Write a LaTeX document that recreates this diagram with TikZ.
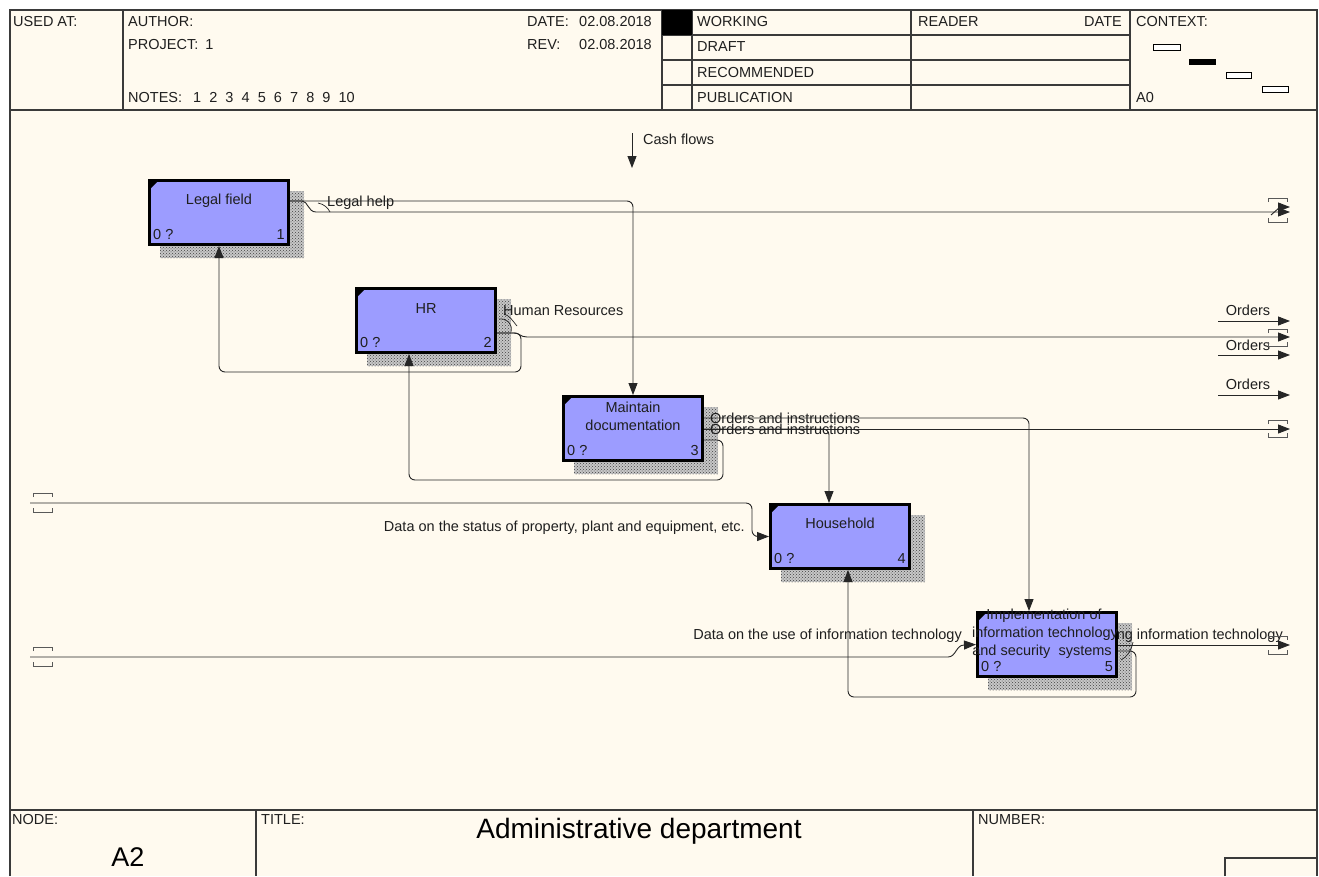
\documentclass[tikz,border=0pt]{standalone}
\usepackage{fontspec}
\setmainfont{Liberation Sans}
\usetikzlibrary{calc,patterns,arrows.meta}

\definecolor{paper}{HTML}{FFFAEF}
\definecolor{boxblue}{HTML}{9C9CFF}
\definecolor{frameline}{HTML}{3A3A3A}
\definecolor{wirecol}{HTML}{262626}

\pgfdeclarelayer{paperlayer}
\pgfdeclarelayer{wires}
\pgfsetlayers{paperlayer,wires,main}

\tikzset{
  lbl/.style={inner sep=0pt, font=\fontsize{14.5}{18}\selectfont, text=black!88,
              text height=10.4pt, text depth=0pt},
  hdr/.style={lbl, anchor=west},
  func/.style={draw=black, line width=2.8pt, fill=boxblue, minimum width=139.2pt,
               minimum height=64.2pt, inner sep=0pt},
  shadowbase/.style={fill=black!22},
  shadowfill/.style={pattern=crosshatch dots, pattern color=black!75},
  frame/.style={draw=frameline, line width=1.2pt},
  wire/.style={draw=wirecol, line width=0.9pt},
  arr/.style={wire, -{Triangle[length=12pt,width=9pt]}},
  rarr/.style={arr, rounded corners=6pt},
  squig/.style={draw=wirecol, line width=0.7pt},
  tunnelline/.style={draw=black!65, line width=1pt},
}

% tunnel brackets: #1 = left x, #2 = upper bracket y, #3 = lower bracket y
\newcommand\tunnelpair[3]{%
  \draw[tunnelline] (#1,#2) ++(0,4) -- ++(0,-4) -- ++(19,0) -- ++(0,4);
  \draw[tunnelline] (#1,#3) ++(0,-4) -- ++(0,4) -- ++(19,0) -- ++(0,-4);
}

\begin{document}
\begin{tikzpicture}[x=1pt,y=-1pt]
\useasboundingbox (0,0) rectangle (1319,876);

% ---------- sheet and frame ----------
\begin{pgfonlayer}{paperlayer}
  \fill[white] (0,0) rectangle (1319,876);
  \fill[paper] (10,10) rectangle (1317,876);
  \draw[frame] (10,876) -- (10,10) -- (1317,10) -- (1317,876);
  \draw[frame] (10,110) -- (1317,110);
  \draw[frame] (123,10) -- (123,110);
  \draw[frame] (662,10) -- (662,110);
  \draw[frame] (692,10) -- (692,110);
  \draw[frame] (911,10) -- (911,110);
  \draw[frame] (1130,10) -- (1130,110);
  \draw[frame] (662,35) -- (1130,35);
  \draw[frame] (662,60) -- (1130,60);
  \draw[frame] (662,85) -- (1130,85);
  \fill[black] (662,10) rectangle (692,35);
  % context map
  \draw[line width=0.9pt, fill=white] (1153,44) rectangle (1180,50);
  \fill[black] (1189,59) rectangle (1216,65);
  \draw[line width=0.9pt, fill=white] (1226,72) rectangle (1251,78);
  \draw[line width=0.9pt, fill=white] (1262,86) rectangle (1288,92);
  % footer
  \draw[frame] (10,810) -- (1317,810);
  \draw[frame] (256,810) -- (256,876);
  \draw[frame] (973,810) -- (973,876);
  \draw[frame] (1225,876) -- (1225,858) -- (1317,858);
\end{pgfonlayer}

% ---------- header texts ----------
\node[hdr] (usedat) at (13,21) {USED AT:};
\node[hdr] (author) at (128,21) {AUTHOR:};
\node[hdr] (project) at (128,44) {PROJECT:\hspace{7pt}1};
\node[hdr] (notes) at (128,97) {\spaceskip=8.1pt NOTES:\hspace{11pt}1 2 3 4 5 6 7 8 9 10};
\node[hdr] (date) at (527,21) {DATE:};
\node[hdr] (dateval) at (579,21) {02.08.2018};
\node[hdr] (rev) at (527,44) {REV:};
\node[hdr] (revval) at (579,44) {02.08.2018};
\node[hdr] (working) at (697,21) {WORKING};
\node[hdr] (draft) at (697,46) {DRAFT};
\node[hdr] (recommended) at (697,72) {RECOMMENDED};
\node[hdr] (publication) at (697,97) {PUBLICATION};
\node[hdr] (reader) at (918,21) {READER};
\node[lbl, anchor=east] (readerdate) at (1122,21) {DATE};
\node[hdr] (context) at (1136,21) {CONTEXT:};
\node[hdr] (ctxnode) at (1136,97) {A0};

% ---------- footer texts ----------
\node[hdr] (nodelbl) at (12,819) {NODE:};
\node[inner sep=0pt, font=\fontsize{27}{30}\selectfont, text height=19.5pt, text depth=0pt]
  (nodeval) at (128,857) {A2};
\node[hdr] (titlelbl) at (261,819) {TITLE:};
\node[inner sep=0pt, font=\fontsize{28}{30}\selectfont, text height=20pt, text depth=0pt]
  (titleval) at (639,828) {Administrative department};
\node[hdr] (numberlbl) at (978,819) {NUMBER:};

% ---------- activity boxes ----------
\node[func] (lf) at (219,212.5) {};
\node[func] (hr) at (426,320.5) {};
\node[func] (md) at (633,428.5) {};
\node[func] (hh) at (840,536.5) {};
\node[func] (im) at (1047,644.5) {};

% corner marks
\foreach \b in {lf,hr,md,hh,im} {
  \fill[black] (\b.north west) -- ($(\b.north west)+(12,0)$) -- ($(\b.north west)+(0,12)$) -- cycle;
}

% box texts
\node[lbl] (lf-t) at ($(lf.north)+(0,20)$) {Legal field};
\node[lbl] (hr-t) at ($(hr.north)+(0,21)$) {HR};
\node[lbl] (md-t1) at ($(md.north)+(0,12)$) {Maintain};
\node[lbl] (md-t2) at ($(md.north)+(0,30)$) {documentation};
\node[lbl] (hh-t) at ($(hh.north)+(0,20)$) {Household};
\node[lbl] (im-t1) at ($(im.north)+(-3,3)$) {Implementation of};
\node[lbl] (im-t2) at ($(im.north)+(-2,21)$) {information technology};
\node[lbl] (im-t3) at ($(im.north)+(-5,39)$) {and security\ \ systems};

\foreach \b/\n in {lf/1,hr/2,md/3,hh/4,im/5} {
  \node[lbl, anchor=west] (\b-z) at ($(\b.south west)+(5,-12)$) {0 ?};
  \node[lbl, anchor=east] (\b-n) at ($(\b.south east)+(-5,-12)$) {\n};
}

% ---------- shadows, connectors and arrow labels ----------
\begin{pgfonlayer}{wires}
  \foreach \b in {lf,hr,md,hh,im} {
    \fill[shadowbase] ($(\b.north west)+(12,12)$) rectangle ($(\b.south east)+(14,12)$);
    \fill[shadowfill] ($(\b.north west)+(12,12)$) rectangle ($(\b.south east)+(14,12)$);
  }

  % control from the boundary
  \coordinate (cf-top) at (632,133);
  \coordinate (cf-tip) at (632,168);
  \draw[arr] (cf-top) -- (cf-tip);
  \node[lbl, anchor=west] (cf-l) at (643,139) {Cash flows};

  % Legal field outputs
  \draw[rarr] ($(lf.east)+(0,-11.5)$) -| (md.north);
  \coordinate (lf-out) at (1290,212);
  \coordinate (lf-out2) at (1290,207);
  \draw[arr] ($(lf.east)+(0,-11.5)$) -- (302,201) .. controls (308,201) and (308,212) .. (316,212) -- (lf-out);
  \draw[arr] (1271,215) -- (1280,207) -- (lf-out2);
  \draw[squig] (318,203) .. controls (324,204) and (328,208) .. (330,212);
  \node[lbl, anchor=west] (lh-l) at (327,201) {Legal help};

  % HR outputs
  \draw[rarr] ($(hr.east)+(0,12.5)$) -- (521,333) -- (521,372) -| (lf.south);
  \coordinate (hr-out) at (1290,337);
  \draw[arr] ($(hr.east)+(0,12.5)$) -- (514,333) .. controls (520,333) and (520,337) .. (527,337) -- (hr-out);
  \draw[squig] (499,319) .. controls (507,318) and (513,324) .. (511,332);
  \draw[squig] (504,314) .. controls (510,316) and (512,320) .. (517,326);
  \node[lbl, anchor=west] (hrs-l) at (503,310) {Human Resources};

  % Maintain documentation outputs
  \draw[rarr] ($(md.east)+(0,-10.5)$) -| ($(im.north)+(-18,0)$);
  \coordinate (md-out) at (1290,429);
  \draw[arr] ($(md.east)+(0,0.5)$) -- (md-out);
  \draw[rarr] ($(md.east)+(0,0.5)$) -| ($(hh.north)+(-11,0)$);
  \draw[rarr] ($(md.east)+(0,11.5)$) -- (723,440) -- (723,480) -| ($(hr.south)+(-17,0)$);
  \node[lbl, anchor=west] (oi1-l) at (710,418) {Orders and instructions};
  \node[lbl, anchor=west] (oi2-l) at (710,429) {Orders and instructions};

  % inputs from the boundary
  \coordinate (hh-in) at (30,503);
  \draw[rarr] (hh-in) -- (752,503) |- (hh.west);
  \node[lbl, anchor=east] (ds-l) at (745,526) {Data on the status of property, plant and equipment, etc.};
  \coordinate (im-in) at (30,657);
  \draw[arr] (im-in) -- (948,657) .. controls (956,657) and (956,645) .. (964,645) -- (im.west);
  \node[lbl, anchor=east] (du-l) at (962,634) {Data on the use of information technology};

  % Implementation outputs
  \coordinate (im-out) at (1290,645);
  \draw[arr] ($(im.east)+(0,0.5)$) -- (im-out);
  \draw[rarr] ($(im.east)+(0,6.5)$) -- (1136,651) -- (1136,697) -| ($(hh.south)+(8,0)$);
  \draw[squig] (1121,660) .. controls (1127,657) and (1131,651) .. (1133,642);
  \node[lbl, anchor=east] (ui-l) at (1283,634) {Using information technology};

  % orders leaving the diagram
  \coordinate (or1-s) at (1218,321); \coordinate (or1-e) at (1290,321);
  \coordinate (or2-s) at (1218,355); \coordinate (or2-e) at (1290,355);
  \coordinate (or3-s) at (1218,395); \coordinate (or3-e) at (1290,395);
  \draw[arr] (or1-s) -- (or1-e);
  \draw[arr] (or2-s) -- (or2-e);
  \draw[arr] (or3-s) -- (or3-e);
  \node[lbl] (or1-l) at (1248,310) {Orders};
  \node[lbl] (or2-l) at (1248,345) {Orders};
  \node[lbl] (or3-l) at (1248,384) {Orders};

  % tunnel brackets
  \tunnelpair{33}{493}{512}
  \tunnelpair{33}{647}{666}
  \tunnelpair{1268}{198}{222}
  \tunnelpair{1268}{329}{346}
  \tunnelpair{1268}{420}{437}
  \tunnelpair{1268}{636}{654}
\end{pgfonlayer}
\end{tikzpicture}
\end{document}
